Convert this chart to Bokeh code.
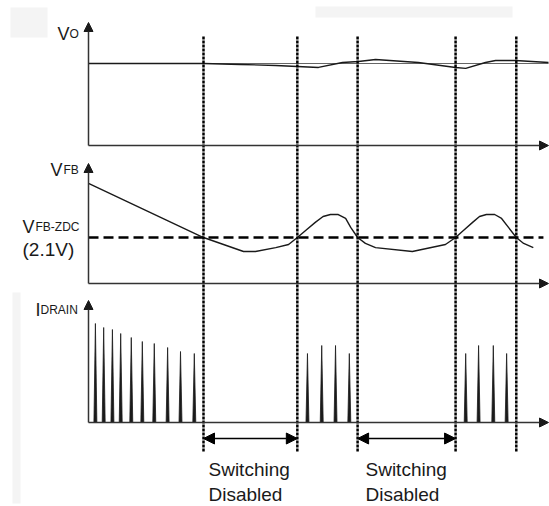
from bokeh.plotting import figure
from bokeh.models import Range1d, Arrow, NormalHead
from bokeh.embed import file_html
from bokeh.resources import INLINE
from bokeh.core.properties import value

# ---------------- data (time in arbitrary units, 0..100) ----------------
event_t = [25.0, 45.4, 58.5, 79.8, 93.0]           # switching enable/disable instants
disabled_spans = [(25.0, 45.4), (58.5, 79.8)]

vo_nominal = 5.0
vo_t = [0, 25.0, 33.0, 40.7, 45.4, 50.0, 55.2, 58.7, 62.4, 71.7, 79.8, 82.0, 86.3, 88.5, 92.8, 100]
vo_v = [5.00, 5.00, 4.94, 4.88, 4.82, 4.76, 5.06, 5.12, 5.24, 5.06, 4.76, 4.70, 5.06, 5.18, 5.18, 5.06]

vfb_zdc = 2.1
vfb_t = [0, 25.0, 33.7, 36.3, 40.7, 43.5, 45.4, 47.2, 49.3, 51.0, 52.6, 54.3, 55.9, 57.0, 58.5,
         60.2, 62.4, 70.4, 77.6, 79.8, 81.5, 83.5, 85.0, 86.5, 88.3, 89.8, 91.3, 93.0, 94.6, 96.7]
vfb_v = [4.57, 2.10, 1.46, 1.46, 1.64, 1.78, 2.10, 2.42, 2.79, 3.06, 3.15, 3.15, 2.97, 2.56, 2.10,
         1.83, 1.64, 1.46, 1.78, 2.10, 2.42, 2.79, 3.06, 3.15, 3.15, 2.97, 2.56, 2.10, 1.83, 1.64]

idrain_t = [1.5, 3.3, 5.2, 7.0, 9.3, 11.7, 14.3, 17.2, 20.0, 23.0,
            47.6, 50.7, 53.7, 56.7,
            82.0, 84.8, 88.0, 90.9]
idrain_a = [0.99, 0.95, 0.93, 0.89, 0.85, 0.81, 0.79, 0.75, 0.71, 0.69,
            0.69, 0.77, 0.77, 0.69,
            0.69, 0.77, 0.77, 0.69]

# ---------------- layout (panel baselines / gains in screen-y units) ----------------
PXU = 4.6            # pixels per time unit
XORG = 88            # screen x of t = 0
def sx(px):          # layout helper for text / decoration positions
    return (px - XORG) / PXU

VO_BASE, VO_GAIN, VO_TOP = 145, 16.4, 22
FB_BASE, FB_GAIN, FB_TOP = 283, 21.9, 163
ID_BASE, ID_GAIN, ID_TOP = 422, 100.0, 300
T_END = 100.0
TY = -7              # text baseline correction

INK = "#1a1a1a"
AX = "#333333"
FONT = value("Liberation Sans")

W, H = 549, 506
p = figure(width=W, height=H, x_range=Range1d(sx(0), sx(W)), y_range=Range1d(H, 0),
           output_backend="svg", toolbar_location=None, min_border=0,
           x_axis_location=None, y_axis_location=None)
p.xgrid.visible = False
p.ygrid.visible = False
p.outline_line_color = None
p.background_fill_color = "white"
p.border_fill_color = "white"

# faint scan artefacts
p.quad(left=[sx(10), sx(315), sx(12)], right=[sx(47), sx(512), sx(20)],
       top=[7, 6, 292], bottom=[37, 17, 503], fill_color="#f4f4f4", line_color=None)

# axes with arrows
for base, top in [(VO_BASE, VO_TOP), (FB_BASE, FB_TOP), (ID_BASE, ID_TOP)]:
    p.add_layout(Arrow(end=NormalHead(size=9, fill_color=INK, line_color=INK),
                       x_start=0, y_start=base, x_end=0, y_end=top,
                       line_color=AX, line_width=1.5))
    p.add_layout(Arrow(end=NormalHead(size=9, fill_color=INK, line_color=INK),
                       x_start=0, y_start=base, x_end=T_END, y_end=base,
                       line_color=AX, line_width=1.5))

# Vo: nominal reference and actual waveform
p.line([0, T_END], [VO_BASE - vo_nominal * VO_GAIN] * 2, line_color="#666666", line_width=1)
p.line(vo_t, [VO_BASE - v * VO_GAIN for v in vo_v], line_color=INK, line_width=1.4)

# VFB: threshold and waveform
p.line([0, 98.9], [FB_BASE - vfb_zdc * FB_GAIN] * 2, line_color="black", line_width=2.5, line_dash="10 5")
p.line(vfb_t, [FB_BASE - v * FB_GAIN for v in vfb_v], line_color=INK, line_width=1.4)

# IDRAIN spikes
hw = 0.32
xs = [[t - hw, t, t + hw] for t in idrain_t]
ys = [[ID_BASE, ID_BASE - a * ID_GAIN, ID_BASE] for a in idrain_a]
p.patches(xs, ys, fill_color=INK, line_color=INK, line_width=0.8)

# vertical dotted event lines
p.segment(x0=event_t, y0=[36] * len(event_t), x1=event_t, y1=[452] * len(event_t),
          line_color="black", line_width=2.5, line_dash="3 1")

# switching disabled arrows
for a, b in disabled_spans:
    p.add_layout(Arrow(start=NormalHead(size=11, fill_color="black", line_color="black"),
                       end=NormalHead(size=11, fill_color="black", line_color="black"),
                       x_start=a, y_start=438, x_end=b, y_end=438,
                       line_color="black", line_width=1.5))

# texts
big = dict(text_font=FONT, text_font_size="18px", text_baseline="alphabetic",
           text_align="left", text_color=INK)
small = dict(text_font=FONT, text_font_size="12px", text_baseline="alphabetic",
             text_align="left", text_color=INK)
lab = dict(text_font=FONT, text_font_size="19px", text_baseline="alphabetic",
           text_align="left", text_color=INK)

p.text(x=[sx(57), sx(50), sx(22), sx(35)], y=[40 + TY, 176 + TY, 233 + TY, 316 + TY],
       text=["V", "V", "V", "I"], **big)
p.text(x=[sx(69), sx(63), sx(35), sx(40)], y=[40 + TY, 176 + TY, 233 + TY, 316 + TY],
       text=["O", "FB", "FB-ZDC", "DRAIN"], **small)
p.text(x=[sx(22)], y=[256 + TY], text=["(2.1V)"], **lab)
p.text(x=[sx(208), sx(208), sx(365), sx(365)], y=[476 + TY, 501 + TY, 476 + TY, 501 + TY],
       text=["Switching", "Disabled", "Switching", "Disabled"], **lab)

open("out.html", "w").write(file_html(p, INLINE))
